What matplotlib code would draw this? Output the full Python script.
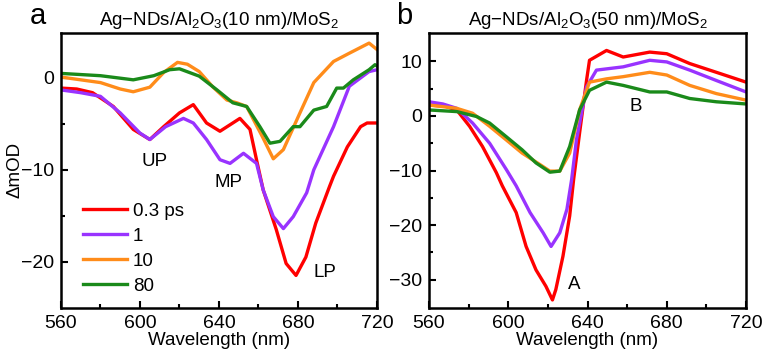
import matplotlib
matplotlib.use("Agg")
import matplotlib.pyplot as plt

plt.rcParams['font.family'] = ['Liberation Sans', 'DejaVu Sans']
plt.rcParams['mathtext.default'] = 'regular'

# ---- panel a : Ag-NDs/Al2O3(10 nm)/MoS2 ----
a_red_x = [560, 568, 576, 586.5, 596.6, 605, 612, 620, 627, 633.7, 640.5, 647, 650.6, 655.7, 659,
           662.4, 669, 674, 679, 684, 689, 696, 698, 705, 711.7, 715, 720]
a_red_y = [-1.1, -1.2, -1.6, -3.1, -5.6, -6.7, -5.3, -3.8, -2.9, -4.9, -5.8, -4.9, -4.4, -5.6, -8.9,
           -12.2, -16.5, -20.2, -21.5, -19.5, -15.8, -11.8, -10.7, -7.5, -5.3, -4.9, -4.9]

a_pur_x = [560, 570, 580, 590, 600, 605, 613, 622, 627, 633.7, 640.5, 645.6, 652.4, 659,
           662.4, 667.5, 672.6, 677.6, 684.4, 688, 698, 706, 716, 720]
a_pur_y = [-1.3, -1.6, -2.0, -3.8, -6.0, -6.7, -5.3, -4.4, -4.9, -6.7, -8.9, -9.3, -8.2, -9.3,
           -12.2, -15.1, -16.4, -15.1, -12.5, -10.0, -5.3, -0.9, 0.7, 0.9]

a_org_x = [560, 580, 590, 596.6, 605, 612, 619, 624, 630, 637, 644, 649, 654, 662, 667.5, 672.6,
           681, 688, 698, 706, 716, 720]
a_org_y = [0.1, -0.5, -1.2, -1.5, -1.0, 0.6, 1.7, 1.5, 0.7, -1.0, -2.4, -2.7, -3.1, -6.4, -8.8, -7.8,
           -3.8, -0.5, 1.8, 2.7, 3.8, 3.1]

a_grn_x = [560, 580, 596.6, 607, 615, 620, 630, 639, 647, 654, 660.7, 665.8, 670.9, 677.6,
           681, 688, 694.5, 699.6, 703, 708, 716, 719, 720]
a_grn_y = [0.5, 0.25, -0.2, 0.25, 0.9, 1.0, 0.2, -1.3, -2.7, -3.1, -5.3, -7.1, -6.9, -5.3,
           -5.3, -3.5, -3.1, -1.1, -1.1, -0.2, 0.9, 1.45, 1.3]

# ---- panel b : Ag-NDs/Al2O3(50 nm)/MoS2 ----
b_red_x = [560, 568, 574, 580.5, 587, 594, 597, 604, 609, 614, 619, 622.3, 624, 627.6, 631, 633,
           636, 639.5, 641, 649.6, 658, 671.4, 680, 691.6, 705, 720]
b_red_y = [2.0, 1.8, 1.1, -1.9, -5.6, -10.4, -12.8, -17.7, -23.9, -28.2, -31.2, -33.7, -31.8, -25.7,
           -18.3, -11.6, -3.1, 6.5, 10.2, 12.0, 10.8, 11.7, 11.4, 9.6, 8.0, 6.2]

b_pur_x = [560, 567, 574, 582, 590.6, 599, 604, 611, 617.6, 621.6, 626, 629.6, 632, 634.4,
           639.5, 644.5, 658, 671.4, 680, 691.6, 705, 720]
b_pur_y = [2.6, 2.2, 1.4, -1.3, -5.0, -9.8, -12.8, -17.7, -21.4, -23.9, -21.4, -17.1, -11.6, -4.4,
           5.3, 8.4, 9.0, 10.2, 9.9, 8.4, 6.5, 4.4]

b_org_x = [560, 574, 582, 590.6, 599, 607, 616, 621, 626, 631, 636, 641, 649.6, 658,
           671.4, 680, 691.6, 705, 720]
b_org_y = [2.0, 1.4, 0.5, -1.9, -4.4, -6.8, -8.9, -10.1, -10.1, -6.8, 1.1, 6.2, 6.8, 7.2,
           8.0, 7.5, 5.6, 4.1, 2.9]

b_grn_x = [560, 574, 584, 590.6, 599, 607, 614, 621, 626, 631, 636, 641, 649.6, 658,
           671.4, 680, 691.6, 705, 720]
b_grn_y = [1.1, 0.8, -0.1, -1.3, -3.8, -6.2, -8.6, -10.3, -10.1, -5.6, 1.1, 4.7, 6.2, 5.6,
           4.4, 4.4, 3.2, 2.6, 2.2]

delays = ['0.3 ps', '1', '10', '80']
colors = ['#ff0000', '#9933ff', '#ff8c1a', '#1a8a1a']

fig = plt.figure(figsize=(7.65, 3.61), dpi=100)
ax1 = fig.add_axes([0.0797, 0.148, 0.4131, 0.7606])
ax2 = fig.add_axes([0.5608, 0.148, 0.4144, 0.7606])

panel_a = [(a_red_x, a_red_y), (a_pur_x, a_pur_y), (a_org_x, a_org_y), (a_grn_x, a_grn_y)]
panel_b = [(b_red_x, b_red_y), (b_pur_x, b_pur_y), (b_org_x, b_org_y), (b_grn_x, b_grn_y)]

for (x, y), c, lab in zip(panel_a, colors, delays):
    ax1.plot(x, y, color=c, lw=2.4, label=lab)
for (x, y), c in zip(panel_b, colors):
    ax2.plot(x, y, color=c, lw=2.4)

ax1.set_ylim(-25, 4.9)
ax2.set_ylim(-35.1, 15.2)
ax1.set_yticks([-20, -10, 0])
ax2.set_yticks([-30, -20, -10, 0, 10])
ax1.set_yticks([-15, -5], minor=True)
ax2.set_yticks([-25, -15, -5, 5], minor=True)

for ax in (ax1, ax2):
    ax.set_xlim(560, 720)
    ax.set_xticks([560, 600, 640, 680, 720])
    ax.set_xticks([580, 620, 660, 700], minor=True)
    ax.tick_params(which='both', direction='in', width=1.5, labelsize=14, pad=5)
    ax.tick_params(which='major', length=5)
    ax.tick_params(which='minor', length=3)
    for s in ax.spines.values():
        s.set_linewidth(1.8)
    ax.set_xlabel('Wavelength (nm)', fontsize=13.5, labelpad=0)

ax1.set_ylabel('\u0394mOD', fontsize=13.5, labelpad=-2)

ax1.set_title('Ag\u2212NDs/Al$_2$O$_3$(10 nm)/MoS$_2$', fontsize=13.5, pad=6)
ax2.set_title('Ag\u2212NDs/Al$_2$O$_3$(50 nm)/MoS$_2$', fontsize=13.5, pad=6)
fig.text(0.050, 0.955, 'a', fontsize=21, ha='center', va='center')
fig.text(0.529, 0.955, 'b', fontsize=21, ha='center', va='center')

ax1.text(607.6, -9.1, 'UP', fontsize=13.5, ha='center', va='center')
ax1.text(644.6, -11.4, 'MP', fontsize=13.5, ha='center', va='center')
ax1.text(693.7, -21.2, 'LP', fontsize=13.5, ha='center', va='center')
ax2.text(633.2, -30.8, 'A', fontsize=13.5, ha='center', va='center')
ax2.text(664.5, 1.65, 'B', fontsize=13.5, ha='center', va='center')

ax1.legend(loc='lower left', bbox_to_anchor=(0.04, 0.012), frameon=False, fontsize=13.5,
           handlelength=2.35, handletextpad=0.3, labelspacing=0.42, borderpad=0)

fig.savefig('out.png', dpi=100)
